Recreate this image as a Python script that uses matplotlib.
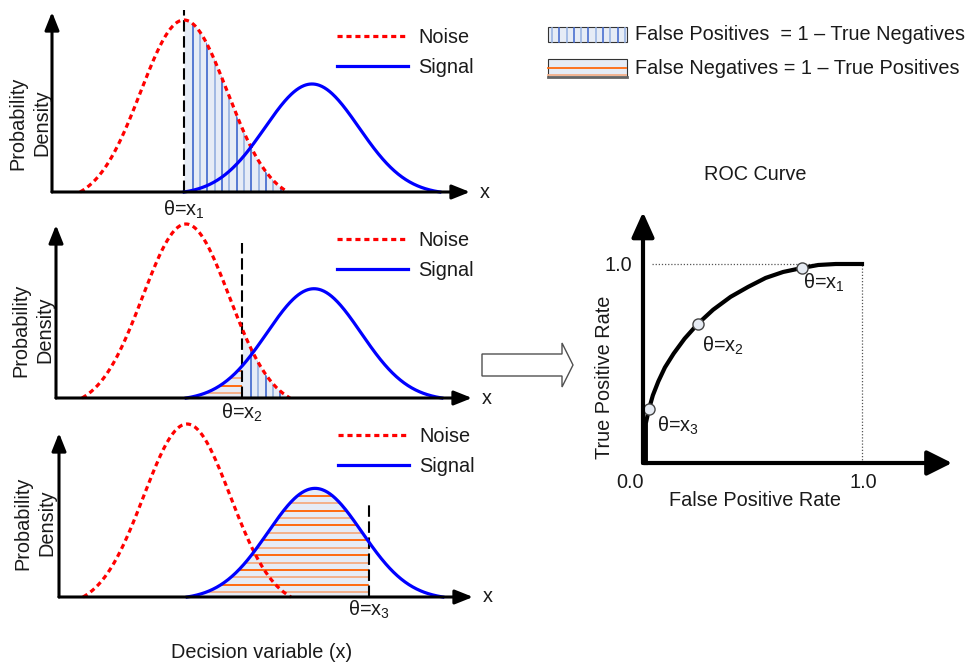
import numpy as np
import matplotlib
matplotlib.use("Agg")
import matplotlib.pyplot as plt
from matplotlib.patches import FancyArrow, Rectangle

plt.rcParams["font.family"] = ["Liberation Sans", "DejaVu Sans"]
plt.rcParams["mathtext.fontset"] = "custom"
plt.rcParams["mathtext.rm"] = "Liberation Sans"
plt.rcParams["mathtext.it"] = "Liberation Sans:italic"
plt.rcParams["mathtext.default"] = "rm"

# ---- decision-variable distributions (truncated bell shapes) ----
noise_mean, noise_sd, noise_cut, noise_peak = 0.0, 0.846, 2.4, 1.0
signal_mean, signal_sd, signal_cut, signal_peak = 2.5, 0.918, 2.72, 0.628
thresholds = [0.0, 1.1, 3.55]
threshold_labels = [r"θ=x$_1$", r"θ=x$_2$", r"θ=x$_3$"]
series_labels = ["Noise", "Signal"]

# ---- ROC curve ----
roc_fpr = [0.013, 0.013, 0.027, 0.045, 0.07, 0.10, 0.14, 0.19, 0.251,
           0.32, 0.40, 0.48, 0.56, 0.64, 0.726, 0.80, 0.88, 1.0]
roc_tpr = [0.0, 0.20, 0.27, 0.34, 0.41, 0.48, 0.55, 0.625, 0.70,
           0.77, 0.835, 0.885, 0.93, 0.96, 0.98, 0.995, 1.0, 1.0]
roc_point_fpr = [0.726, 0.251, 0.027]
roc_point_tpr = [0.98, 0.70, 0.27]
roc_tick_labels = ["0.0", "1.0"]

W, H = 969, 665
TXT = "#1a1a1a"
FILL = "#e6ecf6"
BLUE_DARK, BLUE_LIGHT = "#4a70d0", "#9ab4e2"
ORANGE_DARK, ORANGE_LIGHT = "#ff6a10", "#f4b08a"
FS = 14.3

fig = plt.figure(figsize=(W / 100, H / 100), dpi=100)

# full-figure overlay in pixel coordinates for annotations
ov = fig.add_axes([0, 0, 1, 1])
ov.set_xlim(0, W)
ov.set_ylim(H, 0)
ov.axis("off")


def bump(x, mean, sd, cut, peak):
    z = (x - mean) / sd
    e = np.exp(-0.5 * cut ** 2)
    return (np.exp(-0.5 * z ** 2) - e) / (1 - e) * peak


def support(mean, sd, cut, n=400):
    return np.linspace(mean - cut * sd, mean + cut * sd, n)


def px_axes(x0, x1, y0, y1, origin, sx, sy):
    """Axes whose data (x, y) maps to pixel origin + (sx*x, -sy*y)."""
    ox, oy = origin
    left = ox + sx * x0
    right = ox + sx * x1
    bottom = oy - sy * y0
    top = oy - sy * y1
    ax = fig.add_axes([left / W, 1 - bottom / H, (right - left) / W, (bottom - top) / H])
    ax.set_xlim(x0, x1)
    ax.set_ylim(y0, y1)
    ax.axis("off")
    return ax


def arrow(ax, start, end, lw, scale, hl, hw):
    ax.annotate("", xy=end, xytext=start, annotation_clip=False,
                arrowprops=dict(arrowstyle=f"-|>,head_length={hl},head_width={hw}",
                                lw=lw, color="black", mutation_scale=scale,
                                shrinkA=0, shrinkB=0), zorder=6)


SX = 51.2
panels = [
    dict(left=52, mean=184, base=192, top=12, tip=470, hpx=172, dash_top=1.058,
         lab_dy=18, leg=(337, 28), ylab=(30, 123)),
    dict(left=56, mean=186, base=398, top=225, tip=472, hpx=174, dash_top=0.89,
         lab_dy=15, leg=(337, 231), ylab=(33, 330)),
    dict(left=59, mean=187, base=597, top=433, tip=473, hpx=173, dash_top=0.55,
         lab_dy=13, leg=(338, 427), ylab=(35, 523)),
]

nx = support(noise_mean, noise_sd, noise_cut)
sxs = support(signal_mean, signal_sd, signal_cut)
ny = bump(nx, noise_mean, noise_sd, noise_cut, noise_peak)
sy_ = bump(sxs, signal_mean, signal_sd, signal_cut, signal_peak)
noise_end = nx[-1]
signal_start = sxs[0]

for p, th, thl in zip(panels, thresholds, threshold_labels):
    xa = (p["left"] - p["mean"]) / SX
    xb = (p["tip"] - p["mean"]) / SX
    ytop = (p["base"] - p["top"]) / p["hpx"]
    ax = px_axes(xa - 0.3, xb + 0.3, -0.1, ytop + 0.1, (p["mean"], p["base"]), SX, p["hpx"])

    # false positives: noise mass right of the threshold
    if th < noise_end:
        fx = np.linspace(th, noise_end, 200)
        poly = ax.fill_between(fx, 0, bump(fx, noise_mean, noise_sd, noise_cut, noise_peak),
                               color=FILL, lw=0, zorder=1)
        pos = th + 0.17 + 0.143 * np.arange(40)
        pos = pos[pos < noise_end]
        cols = [BLUE_DARK if i % 2 == 0 else BLUE_LIGHT for i in range(len(pos))]
        lc = ax.vlines(pos, 0, 1.2, colors=cols, lw=1.3, zorder=1.5)
        lc.set_clip_path(poly.get_paths()[0], ax.transData)

    # false negatives: signal mass left of the threshold
    if th > signal_start:
        fx = np.linspace(signal_start, th, 200)
        poly = ax.fill_between(fx, 0, bump(fx, signal_mean, signal_sd, signal_cut, signal_peak),
                               color=FILL, lw=0, zorder=1)
        lev = 0.027 + 0.043 * np.arange(30)
        cols = [ORANGE_LIGHT if i % 2 == 0 else ORANGE_DARK for i in range(len(lev))]
        lc = ax.hlines(lev, signal_start, th, colors=cols, lw=1.4, zorder=1.5)
        lc.set_clip_path(poly.get_paths()[0], ax.transData)

    ax.plot([th, th], [0, p["dash_top"]], color="black", lw=1.5,
            dashes=(5.5, 2.2), zorder=2)
    hn, = ax.plot(nx, ny, color="#ff0000", lw=2.3, dashes=(1.6, 1.2), zorder=3)
    hs, = ax.plot(sxs, sy_, color="#0000ff", lw=2.3, zorder=3)

    arrow(ax, (xa, 0), (xb, 0), 2.2, 27, 0.4, 0.16)
    arrow(ax, (xa, 0), (xa, ytop), 2.2, 27, 0.4, 0.16)

    ax.annotate(thl, xy=(th, 0), xytext=(0, -p["lab_dy"] * 0.72), textcoords="offset points",
                ha="center", va="center", fontsize=FS, color=TXT)
    ov.text(p["tip"] + 10, p["base"], "x", fontsize=FS, color=TXT, ha="left", va="center")
    ov.text(p["ylab"][0], p["ylab"][1], "Probability\nDensity", rotation=90, fontsize=FS,
            color=TXT, ha="center", va="center", multialignment="center", linespacing=1.35)

    lx, ly = p["leg"]
    ax.legend([hn, hs], series_labels, loc="upper left",
              bbox_to_anchor=(lx / W, 1 - ly / H), bbox_transform=fig.transFigure,
              frameon=False, fontsize=FS, handlelength=3.55, handletextpad=0.55,
              borderpad=0, borderaxespad=0, labelspacing=0.55, labelcolor=TXT)

ov.text(262, 652, "Decision variable (x)", fontsize=FS, color=TXT, ha="center", va="center")

# block arrow between the panels and the ROC plot
ov.add_patch(FancyArrow(482, 365, 91, 0, width=22, head_width=44, head_length=11,
                        length_includes_head=True, fc="white", ec="#505050", lw=1))

# shading key
ov.add_patch(Rectangle((548, 27), 79, 15, fc=FILL, ec="#333333", lw=0.8, zorder=1))
for i, xv in enumerate(np.arange(552, 627, 7.3)):
    ov.plot([xv, xv], [27.5, 41.5], color=BLUE_DARK if i % 2 else BLUE_LIGHT, lw=1.2, zorder=2)
ov.add_patch(Rectangle((548, 59), 79, 18, fc=FILL, ec="#333333", lw=0.8, zorder=1))
ov.plot([548.5, 626.5], [68, 68], color=ORANGE_DARK, lw=1.3, zorder=2)
ov.plot([548.5, 626.5], [75, 75], color=ORANGE_LIGHT, lw=1.3, zorder=2)
ov.plot([548, 627], [77, 77], color="#666666", lw=2, zorder=3)
ov.text(635, 35, "False Positives  = 1 \u2013 True Negatives", fontsize=FS, color=TXT,
        ha="left", va="center")
ov.text(635, 68, "False Negatives = 1 \u2013 True Positives", fontsize=FS, color=TXT,
        ha="left", va="center")

# ---- ROC plot ----
rax = px_axes(-0.12, 1.5, -0.12, 1.32, (643, 463), 219, 199)
rax.plot([0.04, 1.0], [1.0, 1.0], color="#555555", lw=0.9, ls=(0, (1, 1.5)), zorder=1)
rax.plot([1.0, 1.0], [0.0, 1.0], color="#555555", lw=0.9, ls=(0, (1, 1.5)), zorder=1)
rax.plot(roc_fpr, roc_tpr, color="black", lw=3, solid_joinstyle="round", zorder=3)
rax.plot(roc_point_fpr, roc_point_tpr, "o", ms=8, mfc="#e6ebf3", mec="#444444",
         mew=1, zorder=4)
for fx_, ty_, lab, off in zip(roc_point_fpr, roc_point_tpr, threshold_labels,
                              [(1, -15), (4, -22), (8, -17)]):
    rax.annotate(lab, xy=(fx_, ty_), xytext=(off[0] * 0.72, off[1] * 0.72),
                 textcoords="offset points", ha="left", va="center", fontsize=FS, color=TXT)
arrow(rax, (0, 0), (1.411, 0), 3, 38, 0.4, 0.2)
arrow(rax, (0, 0), (0, 1.261), 3, 38, 0.4, 0.18)

rax.text(-0.05, 0.99, roc_tick_labels[1], ha="right", va="center", fontsize=FS, color=TXT)
rax.annotate(roc_tick_labels[0], xy=(0, 0), xytext=(-13 * 0.72, -19 * 0.72),
             textcoords="offset points", ha="center", va="center", fontsize=FS, color=TXT)
rax.annotate(roc_tick_labels[1], xy=(1, 0), xytext=(1 * 0.72, -19 * 0.72),
             textcoords="offset points", ha="center", va="center", fontsize=FS, color=TXT)
ov.text(755, 500, "False Positive Rate", fontsize=FS, color=TXT, ha="center", va="center")
ov.text(605, 377, "True Positive Rate", fontsize=FS, color=TXT, ha="center", va="center",
        rotation=90)
ov.text(755, 175, "ROC Curve", fontsize=FS, color=TXT, ha="center", va="center")

fig.savefig("out.png", dpi=100)
